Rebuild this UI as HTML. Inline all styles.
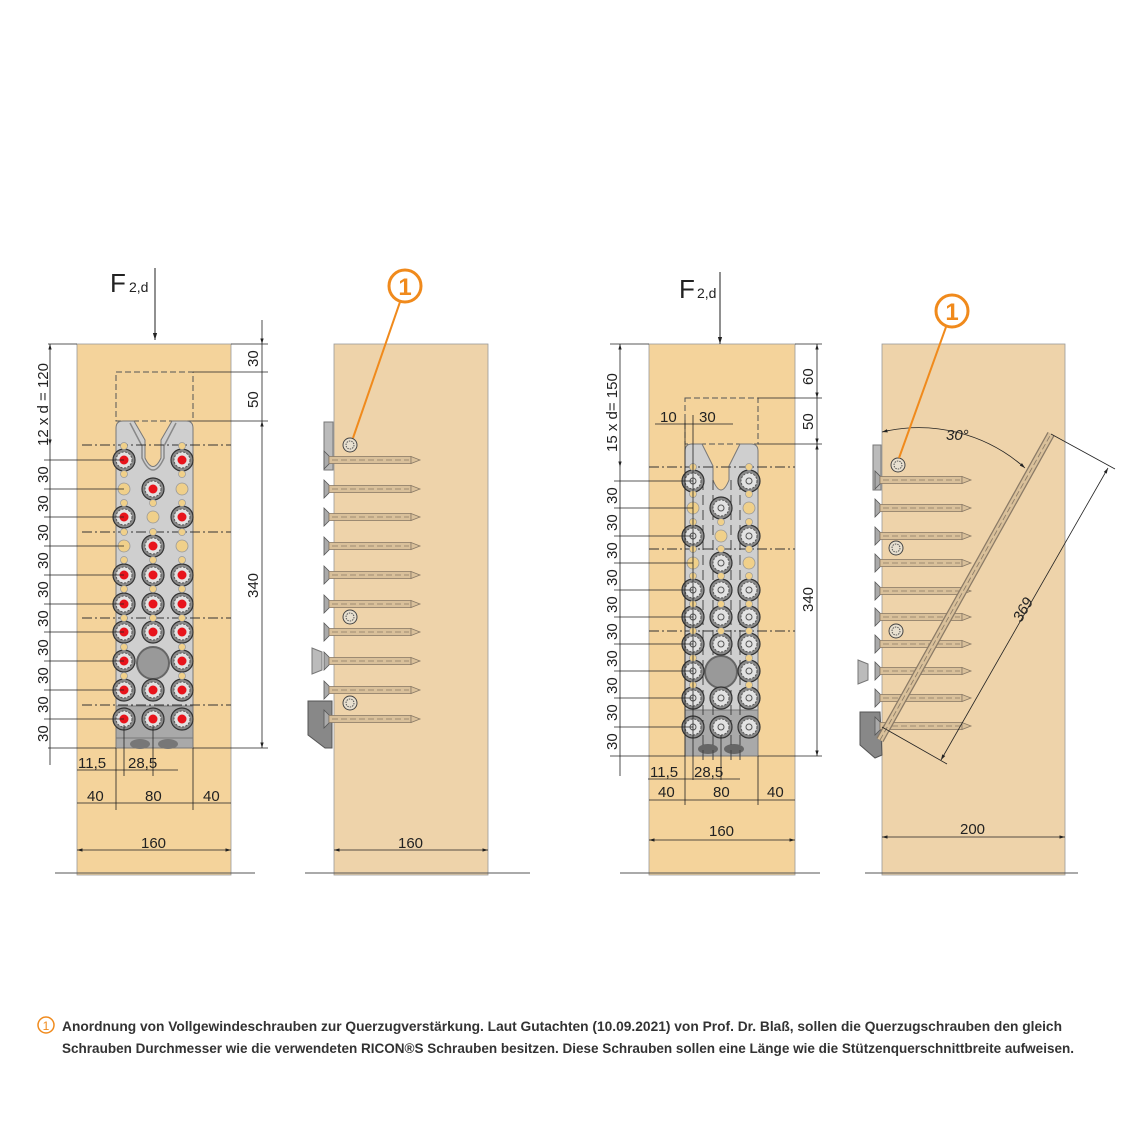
<!DOCTYPE html>
<html><head><meta charset="utf-8"><style>
html,body{margin:0;padding:0;background:#fff}
svg{display:block}
text{font-family:"Liberation Sans",sans-serif;fill:#222}
.d{font-size:15px}
</style></head><body>
<svg width="1140" height="1140" viewBox="0 0 1140 1140" xmlns="http://www.w3.org/2000/svg">
<defs>
<g id="sr"><circle r="11" fill="#8a8a8a" stroke="#333" stroke-width="1.2"/><circle r="8" fill="#e2e2e2" stroke="#555" stroke-width="1" stroke-dasharray="2 1.5"/><circle r="4.5" fill="#e8141c"/></g>
<g id="sg"><circle r="11" fill="#8a8a8a" stroke="#333" stroke-width="1.2"/><circle r="8" fill="#e2e2e2" stroke="#555" stroke-width="1" stroke-dasharray="2 1.5"/><circle r="3" fill="none" stroke="#555"/></g>
<g id="hb"><circle r="6" fill="#f0d08a" stroke="#999" stroke-width=".8"/></g>
<g id="hs"><circle r="3.5" fill="#f0d08a" stroke="#999" stroke-width=".7"/></g>
<g id="hz"><path d="M0,-9 L5,-4 L5,4 L0,9 Z" fill="#aaa" stroke="#555" stroke-width=".8"/><rect x="5" y="-3.5" width="82" height="7" fill="#d9c09a" stroke="#8a7a66" stroke-width=".8"/><line x1="8" y1="0" x2="85" y2="0" stroke="#8a7a66" stroke-dasharray="6 3" stroke-width=".7"/><path d="M87,-3.5 L96,0 L87,3.5Z" fill="#d9c09a" stroke="#8a7a66" stroke-width=".8"/></g>
<g id="sm"><circle r="7" fill="#e8e0d0" stroke="#444" stroke-width="1"/><circle r="4" fill="none" stroke="#555" stroke-dasharray="1.5 1"/></g>
<marker id="a" viewBox="0 0 10 10" refX="10" refY="5" markerWidth="7" markerHeight="7" orient="auto-start-reverse"><path d="M0,2 L10,5 L0,8Z" fill="#222"/></marker>
</defs>

<!-- PANEL 1 -->
<rect x="77" y="344" width="154" height="531" fill="#f4d39b" stroke="#999" stroke-width=".8"/>
<line x1="55" y1="873" x2="255" y2="873" stroke="#555"/>
<rect x="116" y="372" width="77" height="49" fill="none" stroke="#555" stroke-dasharray="6 3"/>
<path d="M116,428 Q116,421 123,421 L134,421 L145,440 L145,458 Q153,475 161,458 L161,440 L172,421 L186,421 Q193,421 193,428 L193,748 L116,748Z" fill="#cfcfcf" stroke="#777"/>
<path d="M130,423 L142,446 L142,458 Q153,482 164,458 L164,446 L176,423" fill="none" stroke="#888" stroke-width="1.5"/>
<rect x="116" y="706" width="77" height="42" fill="#a9a9a9" stroke="#777"/>
<line x1="116" y1="738" x2="193" y2="738" stroke="#777"/>
<ellipse cx="140" cy="744" rx="10" ry="5" fill="#777"/><ellipse cx="168" cy="744" rx="10" ry="5" fill="#777"/>
<g stroke="#333" stroke-dasharray="10 3 2 3" stroke-width="1"><line x1="82" y1="445" x2="231" y2="445"/><line x1="82" y1="532" x2="231" y2="532"/><line x1="82" y1="618" x2="231" y2="618"/><line x1="82" y1="705" x2="231" y2="705"/></g>
<circle cx="153" cy="663" r="16" fill="#999" stroke="#666" stroke-width="2"/>
<g id="p1s">
<use href="#sr" x="124" y="460"/><use href="#sr" x="182" y="460"/>
<use href="#hb" x="124" y="489"/><use href="#sr" x="153" y="489"/><use href="#hb" x="182" y="489"/>
<use href="#sr" x="124" y="517"/><use href="#hb" x="153" y="517"/><use href="#sr" x="182" y="517"/>
<use href="#hb" x="124" y="546"/><use href="#sr" x="153" y="546"/><use href="#hb" x="182" y="546"/>
<use href="#sr" x="124" y="575"/><use href="#sr" x="153" y="575"/><use href="#sr" x="182" y="575"/>
<use href="#sr" x="124" y="604"/><use href="#sr" x="153" y="604"/><use href="#sr" x="182" y="604"/>
<use href="#sr" x="124" y="632"/><use href="#sr" x="153" y="632"/><use href="#sr" x="182" y="632"/>
<use href="#sr" x="124" y="661"/><use href="#sr" x="182" y="661"/>
<use href="#sr" x="124" y="690"/><use href="#sr" x="153" y="690"/><use href="#sr" x="182" y="690"/>
<use href="#sr" x="124" y="719"/><use href="#sr" x="153" y="719"/><use href="#sr" x="182" y="719"/>
</g>
<g>
<use href="#hs" x="124" y="446"/><use href="#hs" x="182" y="446"/><use href="#hs" x="124" y="474"/><use href="#hs" x="182" y="474"/><use href="#hs" x="124" y="503"/><use href="#hs" x="153" y="503"/><use href="#hs" x="182" y="503"/><use href="#hs" x="124" y="532"/><use href="#hs" x="153" y="532"/><use href="#hs" x="182" y="532"/><use href="#hs" x="124" y="560"/><use href="#hs" x="153" y="560"/><use href="#hs" x="182" y="560"/><use href="#hs" x="124" y="589"/><use href="#hs" x="153" y="589"/><use href="#hs" x="182" y="589"/><use href="#hs" x="124" y="618"/><use href="#hs" x="153" y="618"/><use href="#hs" x="182" y="618"/><use href="#hs" x="124" y="647"/><use href="#hs" x="182" y="647"/><use href="#hs" x="124" y="676"/><use href="#hs" x="182" y="676"/>
</g>
<!-- force -->
<line x1="155" y1="268" x2="155" y2="340" stroke="#222" marker-end="url(#a)"/>
<text x="110" y="292" font-size="26">F</text><text x="129" y="292" font-size="14">2,d</text>
<!-- dims panel1 -->
<g stroke="#222" stroke-width=".8" fill="none">
<line x1="48" y1="344" x2="77" y2="344"/><line x1="231" y1="344" x2="268" y2="344"/>
<line x1="193" y1="372" x2="268" y2="372"/><line x1="193" y1="421" x2="268" y2="421"/><line x1="193" y1="748" x2="268" y2="748"/><line x1="48" y1="748" x2="116" y2="748"/>
<line x1="262" y1="320" x2="262" y2="344" marker-end="url(#a)"/><line x1="262" y1="344" x2="262" y2="421"/><line x1="262" y1="421" x2="262" y2="748" marker-start="url(#a)" marker-end="url(#a)"/>
<line x1="50" y1="344" x2="50" y2="445" marker-start="url(#a)" marker-end="url(#a)"/>
<line x1="50" y1="445" x2="50" y2="765"/>
<line x1="44" y1="460" x2="124" y2="460"/><line x1="44" y1="489" x2="124" y2="489"/><line x1="44" y1="517" x2="124" y2="517"/><line x1="44" y1="546" x2="124" y2="546"/><line x1="44" y1="575" x2="124" y2="575"/><line x1="44" y1="604" x2="124" y2="604"/><line x1="44" y1="632" x2="124" y2="632"/><line x1="44" y1="661" x2="124" y2="661"/><line x1="44" y1="690" x2="124" y2="690"/><line x1="44" y1="719" x2="124" y2="719"/>
<line x1="116" y1="748" x2="116" y2="810"/><line x1="193" y1="748" x2="193" y2="810"/><line x1="124" y1="725" x2="124" y2="776"/><line x1="153" y1="725" x2="153" y2="776"/>
<line x1="77" y1="770" x2="178" y2="770"/>
<line x1="77" y1="803" x2="231" y2="803" /><line x1="77" y1="850" x2="231" y2="850" marker-start="url(#a)" marker-end="url(#a)"/>
</g>
<g class="d">
<text transform="translate(258,367) rotate(-90)">30</text>
<text transform="translate(258,408) rotate(-90)">50</text>
<text transform="translate(258,598) rotate(-90)">340</text>
<text transform="translate(48,446) rotate(-90)">12 x d =  120</text>
<text transform="translate(48,483) rotate(-90)">30</text><text transform="translate(48,512) rotate(-90)">30</text><text transform="translate(48,541) rotate(-90)">30</text><text transform="translate(48,569) rotate(-90)">30</text><text transform="translate(48,598) rotate(-90)">30</text><text transform="translate(48,627) rotate(-90)">30</text><text transform="translate(48,656) rotate(-90)">30</text><text transform="translate(48,684) rotate(-90)">30</text><text transform="translate(48,713) rotate(-90)">30</text><text transform="translate(48,742) rotate(-90)">30</text>
<text x="78" y="768">11,5</text><text x="128" y="768">28,5</text>
<text x="87" y="801">40</text><text x="145" y="801">80</text><text x="203" y="801">40</text>
<text x="141" y="848">160</text>
</g>

<!-- PANEL 2 -->
<rect x="334" y="344" width="154" height="531" fill="#eed3aa" stroke="#999" stroke-width=".8"/>
<line x1="305" y1="873" x2="530" y2="873" stroke="#555"/>
<rect x="324" y="422" width="9" height="48" fill="#bbb" stroke="#777"/>
<path d="M308,701 L332,701 L332,748 L325,748 L308,735Z" fill="#888" stroke="#555"/>
<path d="M312,648 L322,652 L322,670 L312,674Z" fill="#bbb" stroke="#777"/>
<use href="#hz" x="324" y="460"/><use href="#hz" x="324" y="489"/><use href="#hz" x="324" y="517"/><use href="#hz" x="324" y="546"/><use href="#hz" x="324" y="575"/><use href="#hz" x="324" y="604"/><use href="#hz" x="324" y="632"/><use href="#hz" x="324" y="661"/><use href="#hz" x="324" y="690"/><use href="#hz" x="324" y="719"/>
<use href="#sm" x="350" y="445"/><use href="#sm" x="350" y="617"/><use href="#sm" x="350" y="703"/>
<line x1="400" y1="302" x2="353" y2="438" stroke="#f08a1c" stroke-width="2"/>
<circle cx="405" cy="286" r="16" fill="#fff" stroke="#f08a1c" stroke-width="3"/>
<text x="405" y="295" font-size="24" font-weight="bold" text-anchor="middle" style="fill:#f08a1c">1</text>
<line x1="334" y1="850" x2="488" y2="850" stroke="#222" stroke-width=".8" marker-start="url(#a)" marker-end="url(#a)"/>
<text x="398" y="848" class="d">160</text>

<!-- PANEL 3 -->
<rect x="649" y="344" width="146" height="531" fill="#f4d39b" stroke="#999" stroke-width=".8"/>
<line x1="620" y1="873" x2="820" y2="873" stroke="#555"/>
<rect x="685" y="398" width="73" height="46" fill="none" stroke="#555" stroke-dasharray="6 3"/>
<path d="M685,451 Q685,444 692,444 L702,444 L713,466 L713,480 Q721,500 729,480 L729,466 L740,444 L751,444 Q758,444 758,451 L758,756 L685,756Z" fill="#cfcfcf" stroke="#777"/>
<rect x="685" y="710" width="73" height="46" fill="#a9a9a9" stroke="#777"/>
<ellipse cx="708" cy="749" rx="10" ry="5" fill="#666"/><ellipse cx="734" cy="749" rx="10" ry="5" fill="#666"/>
<g stroke="#444" stroke-dasharray="10 5" stroke-width="1"><line x1="703" y1="480" x2="703" y2="760"/><line x1="713" y1="480" x2="713" y2="760"/><line x1="731" y1="480" x2="731" y2="760"/><line x1="740" y1="480" x2="740" y2="760"/></g>
<g stroke="#333" stroke-dasharray="10 3 2 3" stroke-width="1"><line x1="649" y1="467" x2="795" y2="467"/><line x1="649" y1="549" x2="795" y2="549"/><line x1="649" y1="631" x2="795" y2="631"/></g>
<circle cx="721" cy="672" r="16" fill="#999" stroke="#666" stroke-width="2"/>
<g>
<use href="#sg" x="693" y="481"/><use href="#sg" x="749" y="481"/>
<use href="#hb" x="693" y="508"/><use href="#sg" x="721" y="508"/><use href="#hb" x="749" y="508"/>
<use href="#sg" x="693" y="536"/><use href="#hb" x="721" y="536"/><use href="#sg" x="749" y="536"/>
<use href="#hb" x="693" y="563"/><use href="#sg" x="721" y="563"/><use href="#hb" x="749" y="563"/>
<use href="#sg" x="693" y="590"/><use href="#sg" x="721" y="590"/><use href="#sg" x="749" y="590"/>
<use href="#sg" x="693" y="617"/><use href="#sg" x="721" y="617"/><use href="#sg" x="749" y="617"/>
<use href="#sg" x="693" y="644"/><use href="#sg" x="721" y="644"/><use href="#sg" x="749" y="644"/>
<use href="#sg" x="693" y="671"/><use href="#sg" x="749" y="671"/>
<use href="#sg" x="693" y="698"/><use href="#sg" x="721" y="698"/><use href="#sg" x="749" y="698"/>
<use href="#sg" x="693" y="727"/><use href="#sg" x="721" y="727"/><use href="#sg" x="749" y="727"/>
<use href="#hs" x="693" y="467"/><use href="#hs" x="749" y="467"/><use href="#hs" x="693" y="494"/><use href="#hs" x="749" y="494"/><use href="#hs" x="693" y="522"/><use href="#hs" x="721" y="522"/><use href="#hs" x="749" y="522"/><use href="#hs" x="693" y="549"/><use href="#hs" x="721" y="549"/><use href="#hs" x="749" y="549"/><use href="#hs" x="693" y="576"/><use href="#hs" x="721" y="576"/><use href="#hs" x="749" y="576"/><use href="#hs" x="693" y="604"/><use href="#hs" x="721" y="604"/><use href="#hs" x="749" y="604"/><use href="#hs" x="693" y="631"/><use href="#hs" x="721" y="631"/><use href="#hs" x="749" y="631"/><use href="#hs" x="693" y="658"/><use href="#hs" x="749" y="658"/><use href="#hs" x="693" y="685"/><use href="#hs" x="749" y="685"/>
</g>
<line x1="720" y1="272" x2="720" y2="344" stroke="#222" marker-end="url(#a)"/>
<text x="679" y="298" font-size="26">F</text><text x="697" y="298" font-size="14">2,d</text>
<g stroke="#222" stroke-width=".8" fill="none">
<line x1="610" y1="344" x2="649" y2="344"/><line x1="795" y1="344" x2="822" y2="344"/>
<line x1="758" y1="398" x2="822" y2="398"/><line x1="758" y1="444" x2="822" y2="444"/><line x1="758" y1="756" x2="822" y2="756"/><line x1="610" y1="756" x2="685" y2="756"/>
<line x1="817" y1="344" x2="817" y2="398" marker-start="url(#a)" marker-end="url(#a)"/><line x1="817" y1="398" x2="817" y2="444" marker-end="url(#a)"/><line x1="817" y1="444" x2="817" y2="756" marker-start="url(#a)" marker-end="url(#a)"/>
<line x1="620" y1="344" x2="620" y2="467" marker-start="url(#a)" marker-end="url(#a)"/><line x1="620" y1="467" x2="620" y2="776"/>
<line x1="614" y1="481" x2="693" y2="481"/><line x1="614" y1="508" x2="693" y2="508"/><line x1="614" y1="536" x2="693" y2="536"/><line x1="614" y1="563" x2="693" y2="563"/><line x1="614" y1="590" x2="693" y2="590"/><line x1="614" y1="617" x2="693" y2="617"/><line x1="614" y1="644" x2="693" y2="644"/><line x1="614" y1="671" x2="693" y2="671"/><line x1="614" y1="698" x2="693" y2="698"/><line x1="614" y1="727" x2="693" y2="727"/>
<line x1="685" y1="420" x2="685" y2="805"/><line x1="758" y1="756" x2="758" y2="805"/><line x1="693" y1="415" x2="693" y2="780"/><line x1="721" y1="735" x2="721" y2="780"/>
<line x1="655" y1="424" x2="733" y2="424"/>
<line x1="648" y1="779" x2="740" y2="779"/>
<line x1="649" y1="800" x2="795" y2="800"/><line x1="649" y1="840" x2="795" y2="840" marker-start="url(#a)" marker-end="url(#a)"/>
</g>
<g class="d">
<text transform="translate(813,385) rotate(-90)">60</text>
<text transform="translate(813,430) rotate(-90)">50</text>
<text transform="translate(813,612) rotate(-90)">340</text>
<text transform="translate(617,452) rotate(-90)">15 x d= 150</text>
<text transform="translate(617,504) rotate(-90)">30</text><text transform="translate(617,531) rotate(-90)">30</text><text transform="translate(617,559) rotate(-90)">30</text><text transform="translate(617,586) rotate(-90)">30</text><text transform="translate(617,613) rotate(-90)">30</text><text transform="translate(617,640) rotate(-90)">30</text><text transform="translate(617,667) rotate(-90)">30</text><text transform="translate(617,694) rotate(-90)">30</text><text transform="translate(617,721) rotate(-90)">30</text><text transform="translate(617,750) rotate(-90)">30</text>
<text x="660" y="422">10</text><text x="699" y="422">30</text>
<text x="650" y="777">11,5</text><text x="694" y="777">28,5</text>
<text x="658" y="797">40</text><text x="713" y="797">80</text><text x="767" y="797">40</text>
<text x="709" y="836">160</text>
</g>

<!-- PANEL 4 -->
<rect x="882" y="344" width="183" height="531" fill="#eed3aa" stroke="#999" stroke-width=".8"/>
<line x1="865" y1="873" x2="1078" y2="873" stroke="#555"/>
<rect x="873" y="445" width="8" height="45" fill="#bbb" stroke="#777"/>
<path d="M860,712 L880,712 L882,755 L875,758 L860,745Z" fill="#888" stroke="#555"/>
<path d="M858,660 L868,664 L868,680 L858,684Z" fill="#bbb" stroke="#777"/>
<g transform="scale(1)">
<use href="#hz" x="875" y="480"/><use href="#hz" x="875" y="508"/><use href="#hz" x="875" y="536"/><use href="#hz" x="875" y="563"/><use href="#hz" x="875" y="591"/><use href="#hz" x="875" y="617"/><use href="#hz" x="875" y="644"/><use href="#hz" x="875" y="671"/><use href="#hz" x="875" y="698"/><use href="#hz" x="875" y="726"/>
</g>
<use href="#sm" x="898" y="465"/><use href="#sm" x="896" y="548"/><use href="#sm" x="896" y="631"/>
<line x1="880" y1="740" x2="1051" y2="434" stroke="#8a7a66" stroke-width="8"/>
<line x1="880" y1="740" x2="1051" y2="434" stroke="#d9c09a" stroke-width="5.5"/>
<line x1="880" y1="740" x2="1051" y2="434" stroke="#8a7a66" stroke-width=".8" stroke-dasharray="6 3"/>
<path d="M882,432 A160,160 0 0 1 1025,468" fill="none" stroke="#222" stroke-width=".8" marker-start="url(#a)" marker-end="url(#a)"/>
<text x="946" y="440" font-size="15" font-style="italic">30°</text>
<g stroke="#222" stroke-width=".8" fill="none">
<line x1="1051" y1="434" x2="1115" y2="469"/><line x1="882" y1="727" x2="947" y2="764"/>
<line x1="1108" y1="468" x2="941" y2="760" marker-start="url(#a)" marker-end="url(#a)"/>
<line x1="882" y1="837" x2="1065" y2="837" marker-start="url(#a)" marker-end="url(#a)"/>
</g>
<text transform="translate(1021,623) rotate(-60)" font-size="15" font-style="italic">369</text>
<text x="960" y="834" class="d">200</text>
<line x1="946" y1="327" x2="899" y2="458" stroke="#f08a1c" stroke-width="2"/>
<circle cx="952" cy="311" r="16" fill="#fff" stroke="#f08a1c" stroke-width="3"/>
<text x="952" y="320" font-size="24" font-weight="bold" text-anchor="middle" style="fill:#f08a1c">1</text>

<!-- footnote -->
<circle cx="46" cy="1025" r="8" fill="#fff" stroke="#f08a1c" stroke-width="1.5"/>
<text x="46" y="1030" font-size="12" text-anchor="middle" style="fill:#f08a1c">1</text>
<text x="62" y="1031" font-size="14" font-weight="bold" textLength="1000" lengthAdjust="spacingAndGlyphs" style="fill:#333">Anordnung von Vollgewindeschrauben zur Querzugverstärkung. Laut Gutachten (10.09.2021) von Prof. Dr. Blaß, sollen die Querzugschrauben den gleich</text>
<text x="62" y="1053" font-size="14" font-weight="bold" textLength="1012" lengthAdjust="spacingAndGlyphs" style="fill:#333">Schrauben Durchmesser wie die verwendeten RICON®S Schrauben besitzen. Diese Schrauben sollen eine Länge wie die Stützenquerschnittbreite aufweisen.</text>
</svg>
</body></html>
